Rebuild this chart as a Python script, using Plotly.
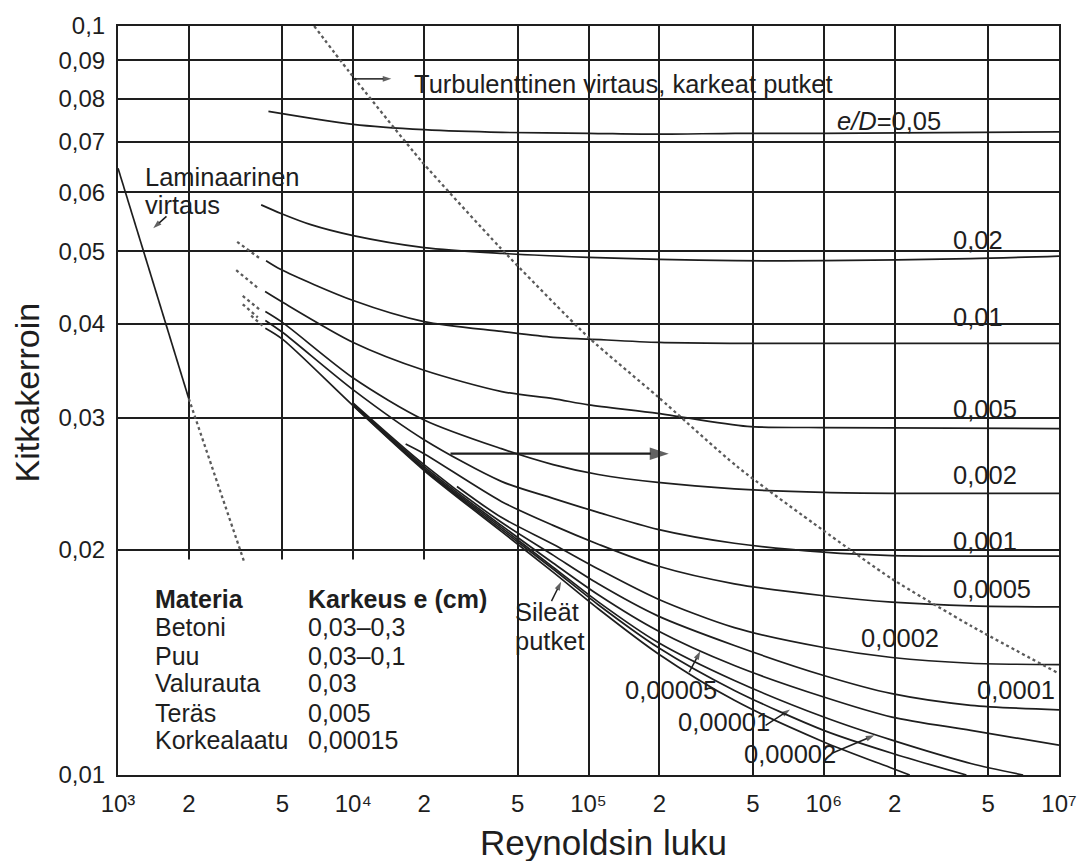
import plotly.graph_objects as go

# ---- Laminar region -------------------------------------------------------
lam_re = [1000, 2000]
lam_f = [0.0646, 0.0318]
lam_ext_re = [2000, 3450]
lam_ext_f = [0.0318, 0.0192]

# ---- Limit of the fully rough zone (dotted) -------------------------------
rough_re = [6.82e3, 9.6e3, 1.95e4, 4.21e4, 1e5, 1.97e5, 4.29e5, 9.83e5, 1.95e6, 4.22e6, 1e7]
rough_f = [0.100, 0.0869, 0.0660, 0.0506, 0.0384, 0.0320, 0.0258, 0.02127, 0.01827, 0.01582, 0.01366]

# ---- Relative roughness curves e/D ----------------------------------------
re_005 = [4.36e3, 1e4, 2e4, 4.3e4, 1e5, 2e5, 4.2e5, 1e6, 1e7]
f_005 = [0.0769, 0.0739, 0.0727, 0.0721, 0.0719, 0.0717, 0.0719, 0.0719, 0.0722]

re_002 = [4.06e3, 4.93e3, 6.6e3, 1e4, 2e4, 4.3e4, 1e5, 2e5, 4.2e5, 1e6, 4.2e6, 1e7]
f_002 = [0.0577, 0.0562, 0.0543, 0.0525, 0.0506, 0.0497, 0.0491, 0.0488, 0.0486, 0.0486, 0.0489, 0.0493]

re_001_dot = [3.21e3, 4.06e3]
f_001_dot = [0.0515, 0.0488]
re_001 = [4.26e3, 4.93e3, 1e4, 2e4, 4.28e4, 7.08e4, 1e5, 2e5, 4.2e5, 1e6, 1e7]
f_001 = [0.0486, 0.0473, 0.0430, 0.0403, 0.0391, 0.0384, 0.0382, 0.0378, 0.0377, 0.0377, 0.0377]

re_0005_dot = [3.18e3, 3.93e3]
f_0005_dot = [0.0472, 0.0447]
re_0005 = [4.22e3, 4.93e3, 1e4, 2e4, 4.28e4, 7.08e4, 1e5, 1.97e5, 4.73e5, 9.84e5, 1e7]
f_0005 = [0.0442, 0.0429, 0.0378, 0.0347, 0.0325, 0.0318, 0.0312, 0.0304, 0.0292, 0.0291, 0.0290]

re_0002_dot = [3.39e3, 4.06e3]
f_0002_dot = [0.04361, 0.04166]
re_0002 = [4.23e3, 5e3, 1e4, 2e4, 4.26e4, 7.07e4, 1.1e5, 1.97e5, 4.17e5, 1e6, 1.95e6, 1e7]
f_0002 = [0.04158, 0.04021, 0.03389, 0.02979, 0.02727, 0.02597, 0.02519, 0.02458, 0.02410, 0.02384, 0.02377, 0.02377]

re_0001_dot = [3.39e3, 3.93e3]
f_0001_dot = [0.04251, 0.04083]
re_0001 = [4.23e3, 5e3, 1e4, 2e4, 4.26e4, 7.07e4, 1.1e5, 1.97e5, 4.17e5, 1e6, 1.95e6, 4.22e6, 1e7]
f_0001 = [0.04045, 0.03900, 0.03267, 0.02803, 0.02466, 0.02341, 0.02242, 0.02128, 0.02039, 0.01984, 0.01963, 0.01960, 0.01960]

re_00005 = [1.67e4, 2e4, 4.26e4, 7.07e4, 1.1e5, 1.97e5, 4.17e5, 1e6, 1.95e6, 4.22e6, 1e7]
f_00005 = [0.02766, 0.02685, 0.02319, 0.02154, 0.02033, 0.01901, 0.01800, 0.01735, 0.01701, 0.01682, 0.01677]

re_00002 = [2.76e4, 4.26e4, 7.07e4, 1.1e5, 1.97e5, 4.17e5, 1e6, 1.95e6, 4.22e6, 1e7]
f_00002 = [0.02428, 0.02208, 0.02033, 0.01884, 0.01718, 0.01573, 0.01480, 0.01435, 0.01410, 0.01404]

re_00001 = [1e4, 2e4, 4.26e4, 7.07e4, 1.1e5, 1.97e5, 4.17e5, 1e6, 1.95e6, 4.22e6, 1e7]
f_00001 = [0.03138, 0.02597, 0.02175, 0.01966, 0.01800, 0.01631, 0.01489, 0.01358, 0.01284, 0.01239, 0.01222]

re_000005 = [1e4, 2e4, 4.26e4, 7.07e4, 1.1e5, 1.97e5, 4.17e5, 1e6, 1.95e6, 4.22e6, 1e7]
f_000005 = [0.03128, 0.02581, 0.02154, 0.01919, 0.01740, 0.01558, 0.01400, 0.01271, 0.01195, 0.01147, 0.01096]

re_000002 = [1e4, 2e4, 4.26e4, 7.07e4, 1.1e5, 1.97e5, 4.17e5, 1e6, 1.95e6, 4.22e6, 7.04e6]
f_000002 = [0.03119, 0.02566, 0.02141, 0.01895, 0.01703, 0.01504, 0.01337, 0.01195, 0.01113, 0.01036, 0.0100]

re_000001 = [1e4, 2e4, 4.26e4, 7.07e4, 1.1e5, 1.97e5, 4.17e5, 1e6, 1.95e6, 4.04e6]
f_000001 = [0.03114, 0.02558, 0.02128, 0.01884, 0.01688, 0.01481, 0.01297, 0.01147, 0.01069, 0.0100]

re_smooth_dot = [3.68e3, 4.12e3]
f_smooth_dot = [0.04104, 0.03980]
re_smooth = [4.23e3, 5e3, 1e4, 2e4, 4.26e4, 7.07e4, 1.1e5, 1.97e5, 4.17e5, 1e6, 1.95e6, 2.32e6]
f_smooth = [0.03948, 0.03818, 0.03110, 0.02550, 0.02115, 0.01866, 0.01667, 0.01453, 0.01258, 0.01107, 0.01021, 0.0100]

solid_curves = [
    (re_005, f_005), (re_002, f_002), (re_001, f_001), (re_0005, f_0005),
    (re_0002, f_0002), (re_0001, f_0001), (re_00005, f_00005),
    (re_00002, f_00002), (re_00001, f_00001), (re_000005, f_000005),
    (re_000002, f_000002), (re_000001, f_000001), (re_smooth, f_smooth),
]
dotted_curves = [
    (re_001_dot, f_001_dot), (re_0005_dot, f_0005_dot), (re_0002_dot, f_0002_dot),
    (re_0001_dot, f_0001_dot), (re_smooth_dot, f_smooth_dot),
]

# ---- Axis ticks ------------------------------------------------------------
y_ticks = [0.01, 0.02, 0.03, 0.04, 0.05, 0.06, 0.07, 0.08, 0.09, 0.1]
y_labels = ["0,01", "0,02", "0,03", "0,04", "0,05", "0,06", "0,07", "0,08", "0,09", "0,1"]
x_ticks = [1e3, 2e3, 5e3, 1e4, 2e4, 5e4, 1e5, 2e5, 5e5, 1e6, 2e6, 5e6, 1e7]
x_labels = ["10³", "2", "5", "10⁴", "2", "5", "10⁵", "2", "5", "10⁶", "2", "5", "10⁷"]

# ---- Material table ---------------------------------------------------------
materials = ["Betoni", "Puu", "Valurauta", "Teräs", "Korkealaatu"]
roughness_cm = ["0,03–0,3", "0,03–0,1", "0,03", "0,005", "0,00015"]

INK = "#1e1e1e"
DOT = "#5a5a5a"
FONT = "Liberation Sans, Arial, Helvetica, DejaVu Sans, sans-serif"

fig = go.Figure()

line_solid = dict(color=INK, width=1.7, shape="spline", smoothing=0.8)
line_dot = dict(color=DOT, width=2.3, dash="dot")

for re_vals, f_vals in solid_curves:
    fig.add_trace(go.Scatter(x=re_vals, y=f_vals, mode="lines", line=line_solid,
                             hoverinfo="skip"))
for re_vals, f_vals in dotted_curves:
    fig.add_trace(go.Scatter(x=re_vals, y=f_vals, mode="lines", line=line_dot,
                             hoverinfo="skip"))

fig.add_trace(go.Scatter(x=lam_re, y=lam_f, mode="lines",
                         line=dict(color=INK, width=1.7), hoverinfo="skip"))
fig.add_trace(go.Scatter(x=lam_ext_re, y=lam_ext_f, mode="lines", line=line_dot,
                         hoverinfo="skip"))
fig.add_trace(go.Scatter(x=rough_re, y=rough_f, mode="lines",
                         line=dict(color=DOT, width=2.3, dash="dot",
                                   shape="spline", smoothing=0.6),
                         hoverinfo="skip"))

# pointer arrows: (tail Re, tail f, head Re, head f, head size, line width)
arrows = [
    (1.607e3, 0.0557, 1.366e3, 0.0532, 9, 1.5),      # laminar flow
    (1.007e4, 0.0850, 1.517e4, 0.0850, 9, 1.5),      # rough-pipe turbulence
    (2.59e4, 0.02685, 2.42e5, 0.02685, 20, 2.2),     # large arrow
    (6.96e4, 0.01707, 7.8e4, 0.01834, 9, 1.5),       # smooth pipes
    (2.68e5, 0.01372, 3.05e5, 0.01481, 9, 1.5),      # 0,00005
    (5.66e5, 0.01165, 7.46e5, 0.01232, 9, 1.5),      # 0,00001
    (1.083e6, 0.01069, 1.709e6, 0.01136, 9, 1.5),    # 0,00002
]
for x0, y0, x1, y1, hs, lw in arrows:
    fig.add_trace(go.Scatter(
        x=[x0, x1], y=[y0, y1], mode="lines+markers",
        line=dict(color=INK, width=lw),
        marker=dict(symbol=["circle", "arrow"], size=[0, hs], color=INK,
                    angleref="previous", standoff=hs / 2, line_width=0),
        hoverinfo="skip"))

# white panel behind the material table (hides the grid there)
fig.add_shape(type="rect", xref="x", yref="y", x0=1.01e3, x1=3.94e4,
              y0=0.01, y1=0.0194, fillcolor="white", line_width=0, layer="between")

ann = []


def text_at(text, px, py, size=25.5, bold=False):
    # position given in plot-area fractions (paper coordinates)
    ann.append(dict(text=f"<b>{text}</b>" if bold else text, x=px, y=py,
                    xref="paper", yref="paper", showarrow=False,
                    xanchor="left", yanchor="middle",
                    font=dict(size=size, color=INK, family=FONT)))


# curve labels
text_at("<i>e/D</i>=0,05", 0.7619, 0.8725)
text_at("0,02", 0.8847, 0.7145)
text_at("0,01", 0.8857, 0.6109)
text_at("0,005", 0.8847, 0.4887)
text_at("0,002", 0.8847, 0.4011)
text_at("0,001", 0.8847, 0.3121)
text_at("0,0005", 0.8847, 0.2483)
text_at("0,0002", 0.7873, 0.1833)
text_at("0,0001", 0.9111, 0.1129)
text_at("0,00005", 0.5365, 0.1129)
text_at("0,00001", 0.5926, 0.0704)
text_at("0,00002", 0.6635, 0.0279)

text_at("Turbulenttinen virtaus, karkeat putket", 0.3122, 0.9230)
text_at("Laminaarinen", 0.0265, 0.7985)
text_at("virtaus", 0.0265, 0.7610)
text_at("Sileät", 0.4201, 0.2180)
text_at("putket", 0.4201, 0.1790)

# material table
text_at("Materia", 0.0367, 0.2347, size=25, bold=True)
text_at("Karkeus e (cm)", 0.1997, 0.2347, size=25, bold=True)
row_y = [0.1979, 0.1594, 0.1222, 0.0830, 0.0465]
for name, val, yy in zip(materials, roughness_cm, row_y):
    text_at(name, 0.0367, yy, size=25)
    text_at(val, 0.1997, yy, size=25)

# axis titles
ann.append(dict(text="Reynoldsin luku", x=0.5164, y=-0.0903, xref="paper", yref="paper",
                showarrow=False, xanchor="center", yanchor="middle",
                font=dict(size=35, color=INK, family=FONT)))
ann.append(dict(text="Kitkakerroin", x=-0.0963, y=0.5113, xref="paper", yref="paper",
                showarrow=False, xanchor="center", yanchor="middle", textangle=-90,
                font=dict(size=34, color=INK, family=FONT)))

fig.update_layout(
    width=1089, height=861,
    margin=dict(l=118, r=26, t=22, b=86),
    paper_bgcolor="white", plot_bgcolor="white",
    showlegend=False,
    font=dict(family=FONT, color=INK),
    annotations=ann,
)
fig.update_xaxes(type="log", range=[3, 7], tickvals=x_ticks, ticktext=x_labels,
                 showgrid=True, gridcolor=INK, gridwidth=1.5,
                 showline=True, linecolor=INK, linewidth=2, mirror=True,
                 ticks="", tickfont=dict(size=24, color=INK), ticklabelstandoff=6,
                 zeroline=False)
fig.update_yaxes(type="log", range=[-2, -1], tickvals=y_ticks, ticktext=y_labels,
                 showgrid=True, gridcolor=INK, gridwidth=1.5,
                 showline=True, linecolor=INK, linewidth=2, mirror=True,
                 ticks="", tickfont=dict(size=24, color=INK), ticklabelstandoff=6,
                 zeroline=False)

fig.write_html("out.html")
